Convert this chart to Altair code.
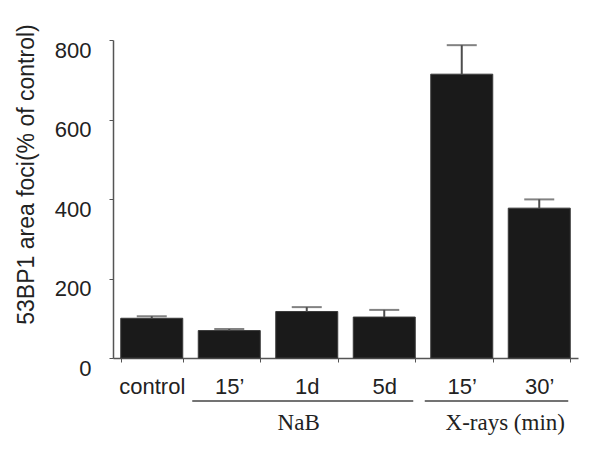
import altair as alt
import pandas as pd

# --- data ---
categories = ["control", "15’|NaB", "1d", "5d", "15’|X", "30’"]
means = [100, 69, 117, 103, 714, 377]
errors = [5, 4, 11, 18, 73, 22]

group_names = ["NaB", "X-rays (min)"]
group_start = ["15’|NaB", "15’|X"]
group_end = ["5d", "30’"]
group_anchor = ["1d", "30’"]

y_ticks = [0, 200, 400, 600, 800]

df = pd.DataFrame({"cat": categories, "mean": means, "err": errors})
groups = pd.DataFrame({"name": group_names, "start": group_start,
                       "end": group_end, "anchor": group_anchor})

xscale = alt.Scale(domain=categories, paddingInner=0.2, paddingOuter=0.1)
yscale = alt.Scale(domain=[0, 800], nice=False)

x_axis = alt.Axis(
    title=None,
    labelExpr="isString(datum.value) ? split(datum.value, '|')[0] : ''",
    labelAngle=0,
    labelFont="Liberation Sans", labelFontSize=22, labelColor="#222222",
    labelBaseline="alphabetic", labelPadding=31, tickBand="extent",
    tickSize=4, tickColor="#555555", domainColor="#555555", domainWidth=1.5,
)
y_axis = alt.Axis(
    title="53BP1 area foci(% of control)", values=y_ticks, grid=False,
    labelFont="Liberation Sans", labelFontSize=22, labelColor="#222222",
    labelPadding=18, labelOffset=10, tickSize=4, tickColor="#555555",
    domainColor="#555555", domainWidth=1.5,
    titleFont="Liberation Sans", titleFontSize=23, titleFontWeight="normal",
    titleColor="#222222", titleX=-87, titleY=134, titleBaseline="middle",
)

base = alt.Chart(df)

bars = base.mark_bar(color="#1a1a1a", stroke="#3a3a3a", strokeWidth=1).encode(
    x=alt.X("cat:N", scale=xscale, axis=x_axis, sort=categories),
    y=alt.Y("mean:Q", scale=yscale, axis=y_axis),
)

err_line = base.transform_calculate(upper="datum.mean + datum.err").mark_rule(
    color="#4d4d4d", strokeWidth=2
).encode(
    x=alt.X("cat:N", scale=xscale, sort=categories),
    y=alt.Y("mean:Q", scale=yscale),
    y2="upper:Q",
)

err_cap = base.transform_calculate(upper="datum.mean + datum.err").mark_tick(
    color="#4d4d4d", thickness=2, size=30
).encode(
    x=alt.X("cat:N", scale=xscale, sort=categories),
    y=alt.Y("upper:Q", scale=yscale),
)

group_rules = alt.Chart(groups).mark_rule(
    color="#444444", strokeWidth=1.5, xOffset=-6, x2Offset=-2
).encode(
    x=alt.X("start:N", scale=xscale, bandPosition=0),
    x2=alt.X2("end:N", bandPosition=1),
    y=alt.value(361),
)

nab_text = alt.Chart(groups).transform_filter("datum.name == 'NaB'").mark_text(
    font="Liberation Serif", fontSize=23, color="#222222", baseline="alphabetic"
).encode(
    x=alt.X("anchor:N", scale=xscale, bandPosition=0.37),
    y=alt.value(390),
    text="name:N",
)

xr_text = alt.Chart(groups).transform_filter("datum.name != 'NaB'").mark_text(
    font="Liberation Serif", fontSize=23, color="#222222", baseline="alphabetic",
    dx=-3
).encode(
    x=alt.X("anchor:N", scale=xscale, bandPosition=0),
    y=alt.value(390),
    text="name:N",
)

chart = alt.layer(bars, err_line, err_cap, group_rules, nab_text, xr_text).properties(
    width=465, height=318,
    autosize=alt.AutoSizeParams(type="none"),
    padding={"left": 105, "top": 32, "right": 14, "bottom": 84},
    background="white",
).configure_view(stroke=None)

chart.save("out.html", embed_options={"renderer": "svg", "actions": False})
